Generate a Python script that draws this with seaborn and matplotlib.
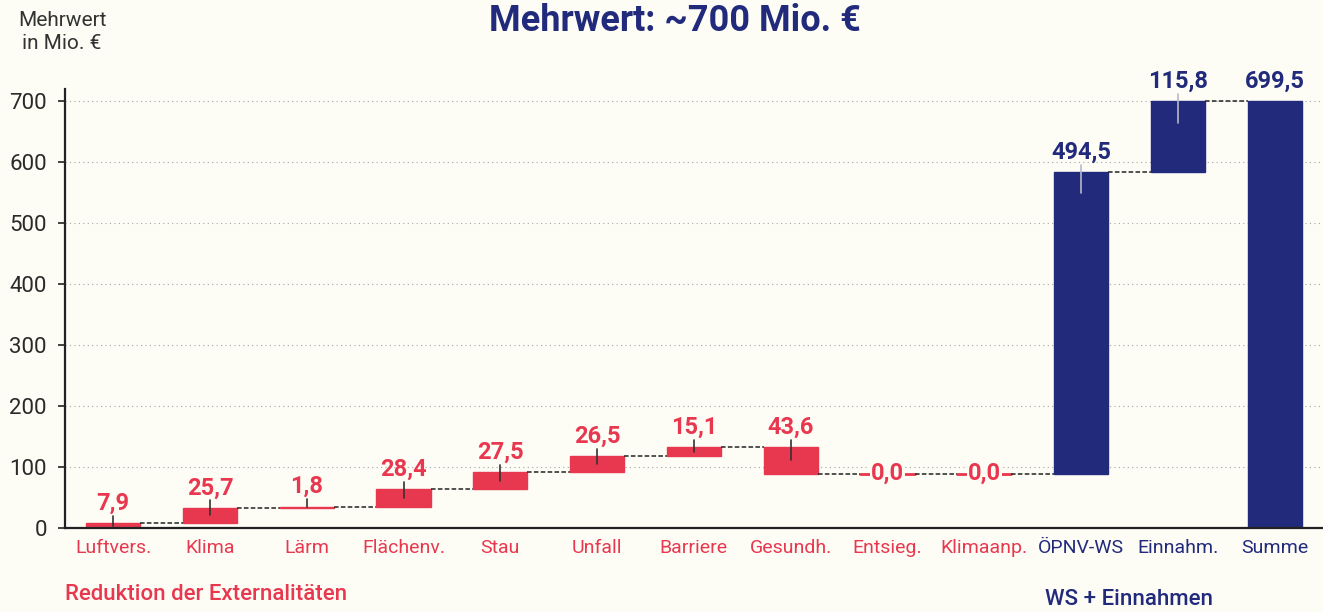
import matplotlib
matplotlib.use("Agg")
import matplotlib.pyplot as plt
import seaborn as sns
import numpy as np

# values (Mio. EUR)
categories = ["Luftvers.", "Klima", "Lärm", "Flächenv.", "Stau", "Unfall", "Barriere",
              "Gesundh.", "Entsieg.", "Klimaanp.", "ÖPNV-WS", "Einnahm.", "Summe"]
deltas = [7.9, 25.7, 1.8, 28.4, 27.5, 26.5, 15.1, -43.6, 0.0, 0.0, 494.5, 115.8]
total = 699.5
groups = ["red"] * 10 + ["blue"] * 3
yticks = [0, 100, 200, 300, 400, 500, 600, 700]

RED = "#E8384F"
BLUE = "#222A7C"
BG = "#FDFDF6"

sns.set_theme(style="white")
plt.rcParams["font.family"] = ["Roboto", "DejaVu Sans"]

fig = plt.figure(figsize=(13.23, 6.12), dpi=100, facecolor=BG)
ax = fig.add_axes([0.049, 0.137, 0.951, 0.718])
ax.set_facecolor(BG)

# waterfall positions
ends = np.cumsum(deltas)
starts = ends - np.array(deltas)
bottoms = list(np.minimum(starts, ends)) + [0]
heights = list(np.abs(deltas)) + [total]
tops = list(np.maximum(starts, ends)) + [total]
levels = list(ends) + [total]
colors = [RED if g == "red" else BLUE for g in groups]
x = np.arange(len(categories))
w = 0.56

for yv in yticks[1:]:
    ax.axhline(yv, color="#a5a5a5", lw=0.8, ls=(0, (1, 3)), zorder=0)

ax.bar(x, heights, bottom=bottoms, width=w, color=colors, edgecolor=colors,
       linewidth=1, zorder=2)

# zero bars as thin lines
for i, d in enumerate(deltas):
    if d == 0:
        ax.plot([i - w / 2, i + w / 2], [ends[i]] * 2, color=RED, lw=2, zorder=3)

# connectors
for i in range(len(categories) - 1):
    ax.plot([i + w / 2, i + 1 - w / 2], [levels[i]] * 2, color="#222222",
            lw=1.1, ls=(0, (3, 1.5)), zorder=3)

# value labels and small tick lines
labels = [f"{abs(d):.1f}".replace(".", ",") for d in deltas] + [f"{total:.1f}".replace(".", ",")]
for i, lab in enumerate(labels):
    col = colors[i]
    if i < len(deltas) and deltas[i] == 0:
        ax.text(i, levels[i], lab, ha="center", va="center", color=col, fontsize=17,
                fontweight="semibold", zorder=5,
                bbox=dict(boxstyle="square,pad=0.05", fc=BG, ec="none"))
        continue
    top = tops[i]
    h = heights[i]
    lc = "#333333" if groups[i] == "red" else "#b8b8c8"
    if i != len(categories) - 1:
        ax.plot([i, i], [top + 12, top - min(35, h * 0.5)], color=lc, lw=1.2, zorder=4)
    ax.annotate(lab, (i, top), xytext=(0, 6), textcoords="offset points", ha="center",
                va="bottom", color=col, fontsize=17, fontweight="semibold", zorder=5)

ax.set_xlim(-0.5, len(categories) - 0.5)
ax.set_ylim(0, 720)
ax.set_yticks(yticks)
ax.set_yticklabels([str(v) for v in yticks], fontsize=16, color="#2a2a2a")
ax.set_xticks(x)
ax.set_xticklabels(categories, fontsize=14)
for t, c in zip(ax.get_xticklabels(), colors):
    t.set_color(c)
ax.tick_params(axis="y", length=5, width=1.2, color="#222222", left=True, pad=8)
ax.tick_params(axis="x", length=0, pad=8)

for s in ["top", "right"]:
    ax.spines[s].set_visible(False)
ax.spines["left"].set_color("#222222")
ax.spines["left"].set_linewidth(1.6)
ax.spines["bottom"].set_color("#222222")
ax.spines["bottom"].set_linewidth(1.6)

fig.text(0.047, 0.948, "Mehrwert\nin Mio. €", ha="center", va="center", fontsize=15,
         color="#333333", linespacing=1.25)
fig.text(0.049, 0.028, "Reduktion der Externalitäten", ha="left", va="center",
         fontsize=16, color=RED, fontweight="medium")
fig.text(0.853, 0.02, "WS + Einnahmen", ha="center", va="center",
         fontsize=16, color=BLUE, fontweight="medium")
fig.text(0.51, 1 - 3 / 612, "Mehrwert: ~700 Mio. €", ha="center", va="top",
         fontsize=26, color=BLUE, fontweight="bold")

fig.savefig("out.png", dpi=100, facecolor=BG)
